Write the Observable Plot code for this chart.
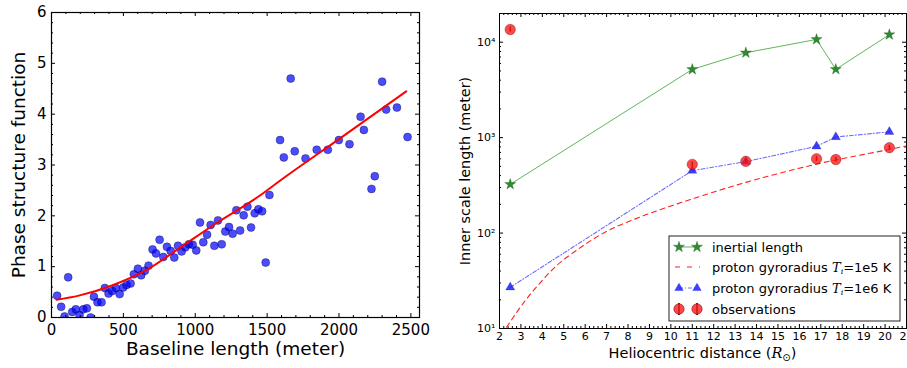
<!DOCTYPE html>
<html><head><meta charset="utf-8">
<script src="https://cdn.jsdelivr.net/npm/d3@7"></script>
<script src="https://cdn.jsdelivr.net/npm/@observablehq/plot@0.6"></script>
<style>
body{margin:0;background:#fff;}
#wrap{position:relative;width:907px;height:368px;overflow:hidden;background:#fff;}
#wrap > svg{position:absolute;top:0;}
</style></head><body><div id="wrap"></div>
<script>
// ---------- Left panel data ----------
const baseline = [39,67,91,116,144,169,195,221,246,272,295,320,348,371,397,422,448,474,499,522,550,573,601,624,650,675,703,727,752,778,803,829,854,880,905,931,956,982,1007,1033,1056,1082,1107,1133,1158,1184,1209,1235,1260,1286,1312,1337,1363,1388,1414,1439,1465,1490,1516,1590,1616,1664,1692,1767,1845,1922,1999,2073,2150,2173,2226,2249,2300,2328,2403,2477];
const phase = [0.43,0.21,0.02,0.79,0.11,0.16,0.05,0.16,0.18,0.0,0.41,0.30,0.30,0.58,0.47,0.52,0.58,0.46,0.59,0.64,0.67,0.85,0.96,0.83,0.92,1.02,1.34,1.26,1.53,1.19,1.39,1.31,1.18,1.41,1.30,1.38,1.44,1.43,1.32,1.87,1.48,1.63,1.82,1.41,1.91,1.44,1.69,1.78,1.65,2.11,1.71,2.01,2.18,1.77,2.05,2.13,2.09,1.08,2.41,3.49,3.15,4.70,3.27,3.13,3.30,3.30,3.49,3.41,3.95,3.69,2.53,2.78,4.64,4.09,4.13,3.55];
const fitX = [35,190,421,652,918,1138,1450,1589,2000,2468];
const fitY = [0.35,0.43,0.63,0.92,1.42,1.84,2.40,2.69,3.51,4.45];
const leftXTicks = [0,500,1000,1500,2000,2500];
const leftYTicks = [0,1,2,3,4,5,6];

// ---------- Right panel data ----------
const dist = [2.5, 11, 13.5, 16.8, 17.7, 20.2];
const inertial = [324, 5190, 7760, 10700, 5200, 12000];
const gyro1e6 = [27, 451, 561, 811, 1016, 1150];
const observed = [13600, 525, 565, 600, 590, 785];
const obsLow = [12800, 495, 532, 565, 556, 740];
const obsHigh = [14400, 555, 598, 635, 624, 830];
const gyro1e5X = [2.33, 3.14, 3.92, 4.62, 5.47, 7.03, 8.59, 11.0, 13.5, 16.85, 20.28, 21];
const gyro1e5Y = [10.3, 18.8, 30.5, 44.7, 63, 105, 148, 228, 340, 531, 759, 820];
const rightXTicks = [2,3,4,5,6,7,8,9,10,11,12,13,14,15,16,17,18,19,20,21];
const rightYTicks = [10, 100, 1000, 10000];
const rightYTickLabels = ["10\u00B9", "10\u00B2", "10\u00B3", "10\u2074"];

const scatter = baseline.map((b, i) => ({b, p: phase[i]}));
const fit = fitX.map((x, i) => ({x, y: fitY[i]}));
const rows = dist.map((d, i) => ({d, inertial: inertial[i], g6: gyro1e6[i], obs: observed[i], lo: obsLow[i], hi: obsHigh[i]}));
const g5 = gyro1e5X.map((x, i) => ({x, y: gyro1e5Y[i]}));

const wrap = document.getElementById("wrap");

// ---------- Left chart ----------
const LW = 430, LH = 368, LM = {l: 51, r: 11, t: 12, b: 51};
const LFH = LH - LM.t - LM.b, LFW = LW - LM.l - LM.r;
const lxMinor = d3.range(100, 2560, 100).filter(v => v % 500 !== 0);
const lyMinor = d3.range(0.2, 6, 0.2).filter(v => Math.abs(v - Math.round(v)) > 1e-6);
const left = Plot.plot({
  width: LW, height: LH,
  marginLeft: LM.l, marginRight: LM.r, marginTop: LM.t, marginBottom: LM.b,
  style: {fontFamily: "DejaVu Sans", fontSize: "15px", background: "transparent", overflow: "visible", color: "black"},
  x: {domain: [0, 2560]},
  y: {domain: [0, 6]},
  marks: [
    Plot.dot(scatter, {x: "b", y: "p", r: 4, fill: "#0000ff", fillOpacity: 0.7, stroke: "#000033", strokeOpacity: 0.6, strokeWidth: 0.6, clip: true}),
    Plot.line(fit, {x: "x", y: "y", stroke: "#ff0000", strokeWidth: 2, curve: "monotone-x"}),
    Plot.tickX(leftXTicks, {x: d => d, insetTop: LFH - 4, stroke: "black"}),
    Plot.tickX(leftXTicks, {x: d => d, insetBottom: LFH - 4, stroke: "black"}),
    Plot.tickX(lxMinor, {x: d => d, insetTop: LFH - 2, stroke: "black"}),
    Plot.tickX(lxMinor, {x: d => d, insetBottom: LFH - 2, stroke: "black"}),
    Plot.tickY(leftYTicks, {y: d => d, insetRight: LFW - 4, stroke: "black"}),
    Plot.tickY(leftYTicks, {y: d => d, insetLeft: LFW - 4, stroke: "black"}),
    Plot.tickY(lyMinor, {y: d => d, insetRight: LFW - 2, stroke: "black"}),
    Plot.tickY(lyMinor, {y: d => d, insetLeft: LFW - 2, stroke: "black"}),
    Plot.frame({stroke: "black", strokeWidth: 1.2}),
    Plot.axisX(leftXTicks, {tickSize: 0, tickPadding: 7, label: null, fontSize: 15, tickFormat: d => String(d)}),
    Plot.axisY(leftYTicks, {tickSize: 0, tickPadding: 5, label: null, fontSize: 15, tickFormat: d => String(d)}),
    Plot.text(["Baseline length (meter)"], {frameAnchor: "bottom", dy: 37, fontSize: 18.5}),
    Plot.text(["Phase structure function"], {frameAnchor: "left", textAnchor: "middle", dx: -32, rotate: -90, fontSize: 18.5})
  ]
});
left.style.left = "0px";
wrap.appendChild(left);

// ---------- Right chart ----------
const RW = 467, RH = 368, RM = {l: 59, r: 1, t: 13, b: 40};
const RFH = RH - RM.t - RM.b, RFW = RW - RM.l - RM.r;
const rxMinor = d3.range(2.2, 21, 0.2).filter(v => Math.abs(v - Math.round(v)) > 1e-6);
const ryMinor = [];
for (const dec of [10, 100, 1000, 10000]) for (let k = 2; k <= 9; k++) if (k * dec <= 20000) ryMinor.push(k * dec);
const right = Plot.plot({
  width: RW, height: RH,
  marginLeft: RM.l, marginRight: RM.r, marginTop: RM.t, marginBottom: RM.b,
  style: {fontFamily: "DejaVu Sans", fontSize: "11px", background: "transparent", overflow: "visible", color: "black"},
  x: {domain: [2, 21]},
  y: {type: "log", domain: [10, 20000]},
  marks: [
    Plot.tickX(rightXTicks, {x: d => d, insetTop: RFH - 4, stroke: "black"}),
    Plot.tickX(rightXTicks, {x: d => d, insetBottom: RFH - 4, stroke: "black"}),
    Plot.tickX(rxMinor, {x: d => d, insetTop: RFH - 2, stroke: "black"}),
    Plot.tickX(rxMinor, {x: d => d, insetBottom: RFH - 2, stroke: "black"}),
    Plot.tickY(rightYTicks, {y: d => d, insetRight: RFW - 4, stroke: "black"}),
    Plot.tickY(rightYTicks, {y: d => d, insetLeft: RFW - 4, stroke: "black"}),
    Plot.tickY(ryMinor, {y: d => d, insetRight: RFW - 2, stroke: "black"}),
    Plot.tickY(ryMinor, {y: d => d, insetLeft: RFW - 2, stroke: "black"}),
    Plot.line(g5, {x: "x", y: "y", stroke: "#ff2020", strokeWidth: 1.1, strokeDasharray: "5,4", curve: "monotone-x", clip: true}),
    Plot.line(rows, {x: "d", y: "g6", stroke: "#6a6aff", strokeWidth: 1.1, strokeDasharray: "4,2,1,2"}),
    Plot.dot(rows, {x: "d", y: "g6", symbol: "triangle", r: 3.4, fill: "#1f1fff", fillOpacity: 0.85, stroke: "#000044", strokeOpacity: 0.4, strokeWidth: 0.5}),
    Plot.line(rows, {x: "d", y: "inertial", stroke: "#5cb85c", strokeWidth: 1}),
    Plot.dot(rows, {x: "d", y: "inertial", symbol: "star", r: 3.5, fill: "#2e8b2e", stroke: "#0b3d0b", strokeOpacity: 0.5, strokeWidth: 0.5}),
    Plot.ruleX(rows, {x: "d", y1: "lo", y2: "hi", stroke: "black", strokeWidth: 1.5}),
    Plot.dot(rows, {x: "d", y: "obs", r: 5.2, fill: "#ff1a1a", fillOpacity: 0.8, stroke: "#800000", strokeOpacity: 0.5, strokeWidth: 0.8}),
    Plot.frame({stroke: "black", strokeWidth: 1}),
    Plot.axisX(rightXTicks, {tickSize: 0, tickPadding: 4, label: null, fontSize: 11, tickFormat: d => String(d)}),
    Plot.axisY(rightYTicks, {tickSize: 0, tickPadding: 4, label: null, fontSize: 11, tickFormat: d => rightYTickLabels[rightYTicks.indexOf(d)]}),
    Plot.text(["Inner scale length (meter)"], {frameAnchor: "left", textAnchor: "middle", dx: -34, rotate: -90, fontSize: 14.4})
  ]
});
right.style.left = "440px";
wrap.appendChild(right);

// ---------- Overlay: math label + legend ----------
const ov = d3.select(wrap).append("svg")
  .attr("width", 907).attr("height", 368)
  .style("left", "0px").style("pointer-events", "none")
  .attr("font-family", "DejaVu Sans");

const xl = ov.append("text").attr("x", 702.5).attr("y", 358).attr("text-anchor", "middle").attr("font-size", 14.5).attr("fill", "black");
xl.append("tspan").text("Heliocentric distance (");
xl.append("tspan").attr("font-family", "DejaVu Serif").attr("font-style", "italic").text("R");
xl.append("tspan").attr("font-size", 10).attr("dy", 3).text("\u2299");
xl.append("tspan").attr("dy", -3).text(")");

const lg = ov.append("g").attr("transform", "translate(669,236)");
lg.append("rect").attr("width", 231).attr("height", 85).attr("fill", "white").attr("stroke", "#222").attr("stroke-width", 1);
const rowsY = [11, 31, 52, 73];
const mx1 = 10, mx2 = 28, tx = 43;
const star = d3.symbol(d3.symbolStar, Math.PI * 3.5 * 3.5)();
const tri = d3.symbol(d3.symbolTriangle, Math.PI * 3.4 * 3.4)();
// inertial
lg.append("line").attr("x1", mx1).attr("x2", mx2).attr("y1", rowsY[0]).attr("y2", rowsY[0]).attr("stroke", "#5cb85c");
for (const mx of [mx1, mx2]) lg.append("path").attr("d", star).attr("transform", `translate(${mx},${rowsY[0]})`).attr("fill", "#2e8b2e").attr("stroke", "#0b3d0b").attr("stroke-opacity", 0.5).attr("stroke-width", 0.5);
// 1e5 dashed
lg.append("line").attr("x1", mx1 - 4).attr("x2", mx2 + 3).attr("y1", rowsY[1]).attr("y2", rowsY[1]).attr("stroke", "#ff2020").attr("stroke-width", 1.1).attr("stroke-dasharray", "5,7");
// 1e6
lg.append("line").attr("x1", mx1).attr("x2", mx2).attr("y1", rowsY[2]).attr("y2", rowsY[2]).attr("stroke", "#6a6aff").attr("stroke-dasharray", "4,2,1,2");
for (const mx of [mx1, mx2]) lg.append("path").attr("d", tri).attr("transform", `translate(${mx},${rowsY[2]})`).attr("fill", "#1f1fff").attr("fill-opacity", 0.85);
// observations
for (const mx of [mx1, mx2]) {
  lg.append("line").attr("x1", mx).attr("x2", mx).attr("y1", rowsY[3] - 6).attr("y2", rowsY[3] + 6).attr("stroke", "black").attr("stroke-width", 1.5);
  lg.append("circle").attr("cx", mx).attr("cy", rowsY[3]).attr("r", 5.2).attr("fill", "#ff1a1a").attr("fill-opacity", 0.8).attr("stroke", "#800000").attr("stroke-opacity", 0.5);
}
const labels = [
  [{t: "inertial length"}],
  [{t: "proton gyroradius "}, {t: "T", it: true}, {t: "i", sub: true}, {t: "=1e5 K", up: true}],
  [{t: "proton gyroradius "}, {t: "T", it: true}, {t: "i", sub: true}, {t: "=1e6 K", up: true}],
  [{t: "observations"}]
];
labels.forEach((parts, i) => {
  const t = lg.append("text").attr("x", tx).attr("y", rowsY[i] + 4.5).attr("font-size", 13).attr("fill", "black");
  for (const p of parts) {
    const s = t.append("tspan").text(p.t);
    if (p.it) s.attr("font-family", "DejaVu Serif").attr("font-style", "italic");
    if (p.sub) s.attr("font-family", "DejaVu Serif").attr("font-style", "italic").attr("font-size", 8).attr("dy", 2);
    if (p.up) s.attr("dy", -2);
  }
});
</script></body></html>
